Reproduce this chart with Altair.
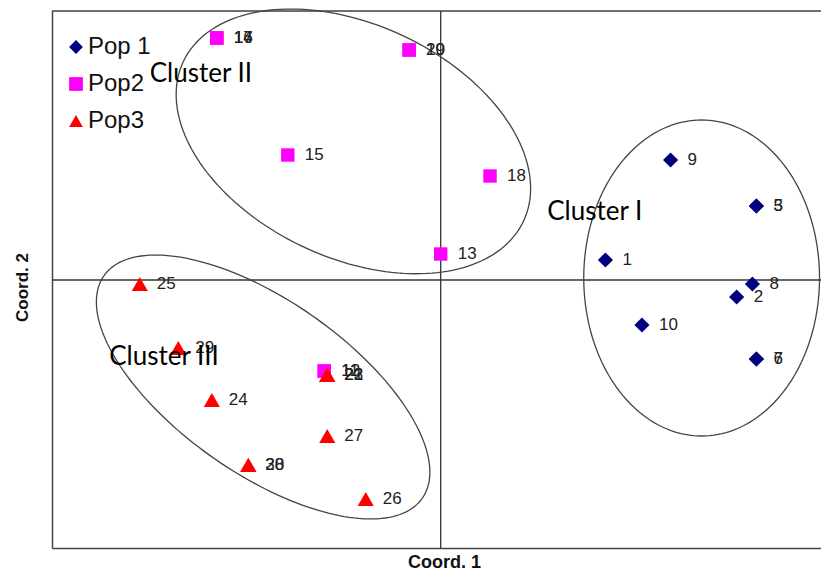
import altair as alt
import numpy as np
import pandas as pd

# ---- data (Coord. 1, Coord. 2) ----
pop_names = ["Pop 1", "Pop2", "Pop3"]

pop1_ids = [1, 2, 3, 5, 6, 7, 8, 9, 10]
pop1_x = [0.167, 0.300, 0.320, 0.320, 0.320, 0.320, 0.316, 0.233, 0.204]
pop1_y = [0.020, -0.017, 0.074, 0.074, -0.079, -0.079, -0.004, 0.120, -0.045]

pop2_ids = [11, 12, 13, 14, 15, 16, 17, 18, 19, 20]
pop2_x = [-0.118, -0.118, 0.000, -0.227, -0.155, -0.227, -0.227, 0.050, -0.032, -0.032]
pop2_y = [-0.091, -0.091, 0.026, 0.242, 0.125, 0.242, 0.242, 0.104, 0.230, 0.230]

pop3_ids = [21, 22, 23, 24, 25, 26, 27, 28, 29, 30]
pop3_x = [-0.115, -0.115, -0.115, -0.232, -0.305, -0.076, -0.115, -0.195, -0.266, -0.195]
pop3_y = [-0.095, -0.095, -0.095, -0.120, -0.004, -0.219, -0.156, -0.185, -0.068, -0.185]

# cluster ellipses: name, centre x, centre y, semi-axis a, semi-axis b, angle (deg)
ell_names = ["Cluster I", "Cluster II", "Cluster III"]
ell_cx = [0.2645, -0.0885, -0.180]
ell_cy = [0.002, 0.1386, -0.107]
ell_a = [0.1195, 0.190, 0.196]
ell_b = [0.158, 0.117, 0.087]
ell_ang = [0.0, -24.4, -34.4]

# cluster label anchors (left edge, middle)
lab_text = ["Cluster I", "Cluster II", "Cluster III"]
lab_x = [0.108, -0.295, -0.336]
lab_y = [0.068, 0.206, -0.077]

x_domain = [-0.394, 0.3855]
y_domain = [-0.268, 0.269]

W, H = 769, 537

# ---- build tables ----
rows = []
for name, ids, xs_, ys_ in [
    (pop_names[0], pop1_ids, pop1_x, pop1_y),
    (pop_names[1], pop2_ids, pop2_x, pop2_y),
    (pop_names[2], pop3_ids, pop3_x, pop3_y),
]:
    for i, xv, yv in zip(ids, xs_, ys_):
        rows.append({"id": str(i), "x": xv, "y": yv, "pop": name})
pts = pd.DataFrame(rows)

t = np.linspace(0, 2 * np.pi, 181)
erows = []
for n, cx, cy, a, b, ang in zip(ell_names, ell_cx, ell_cy, ell_a, ell_b, ell_ang):
    th = np.deg2rad(ang)
    ex = cx + a * np.cos(t) * np.cos(th) - b * np.sin(t) * np.sin(th)
    ey = cy + a * np.cos(t) * np.sin(th) + b * np.sin(t) * np.cos(th)
    for k, (u, v) in enumerate(zip(ex, ey)):
        erows.append({"ell": n, "k": k, "x": u, "y": v})
ells = pd.DataFrame(erows)

labs = pd.DataFrame({"text": lab_text, "x": lab_x, "y": lab_y})

xs = alt.Scale(domain=x_domain, nice=False, zero=False)
ys = alt.Scale(domain=y_domain, nice=False, zero=False)

xaxis = alt.Axis(title="Coord. 1", labels=False, ticks=False, grid=False,
                 domain=True, domainColor="#444", domainWidth=1.5,
                 titleFont="Liberation Sans", titleFontSize=18, titleFontWeight="bold",
                 titleColor="#111", titlePadding=5, titleX=392)
yaxis = alt.Axis(title="Coord. 2", labels=False, ticks=False, grid=False,
                 domain=True, domainColor="#444", domainWidth=1.5,
                 titleFont="Liberation Sans", titleFontSize=17, titleFontWeight="bold",
                 titleColor="#111", titlePadding=21, titleY=276)

X = alt.X("x:Q", scale=xs, axis=xaxis)
Y = alt.Y("y:Q", scale=ys, axis=yaxis)

top_border = alt.Chart(pd.DataFrame({"x": [0.0]})).mark_rule(color="#444", strokeWidth=1.5).encode(
    x=alt.value(0), x2=alt.value(W), y=alt.value(0)
)

zero_x = alt.Chart(pd.DataFrame({"x": [0.0]})).mark_rule(color="#333", strokeWidth=1.3).encode(x=X)
zero_y = alt.Chart(pd.DataFrame({"y": [0.0]})).mark_rule(color="#333", strokeWidth=1.3).encode(y=Y)

ellipses = alt.Chart(ells).mark_line(color="#444", strokeWidth=1.3).encode(
    x=X, y=Y, detail="ell:N", order="k:Q"
)

leg = alt.Legend(title=None, orient="none", legendX=12, legendY=24,
                 labelFont="Liberation Sans", labelFontSize=24, labelColor="#111",
                 symbolSize=190, symbolStrokeWidth=0, labelOffset=0, rowPadding=13, padding=0)

C = alt.Color("pop:N", scale=alt.Scale(domain=pop_names, range=["#000080", "#FF00FF", "#FF0000"]),
              legend=leg)
S = alt.Shape("pop:N", scale=alt.Scale(domain=pop_names, range=["diamond", "square", "triangle-up"]),
              legend=leg)

marker_size = {"Pop 1": 230, "Pop2": 180, "Pop3": 260}
point_layers = [
    alt.Chart(pts).transform_filter(alt.datum.pop == name)
    .mark_point(filled=True, opacity=1, strokeWidth=0, size=marker_size[name])
    .encode(x=X, y=Y, color=C, shape=S)
    for name in pop_names
]

point_labels = alt.Chart(pts).mark_text(
    align="left", baseline="middle", dx=17, font="Liberation Sans", fontSize=17, color="#222"
).encode(x=X, y=Y, text="id:N")

cluster_labels = alt.Chart(labs).mark_text(
    align="left", baseline="middle", font="Lato", fontSize=26, color="#000"
).encode(x=X, y=Y, text="text:N")

chart = alt.layer(top_border, zero_x, zero_y, ellipses, *point_layers, point_labels, cluster_labels).properties(
    width=W, height=H,
    autosize=alt.AutoSizeParams(type="none"),
    padding={"left": 44, "top": 3, "right": 0, "bottom": 25},
).configure_view(stroke=None).configure(background="white")

chart.save("out.html", embed_options={"renderer": "svg", "actions": False})
